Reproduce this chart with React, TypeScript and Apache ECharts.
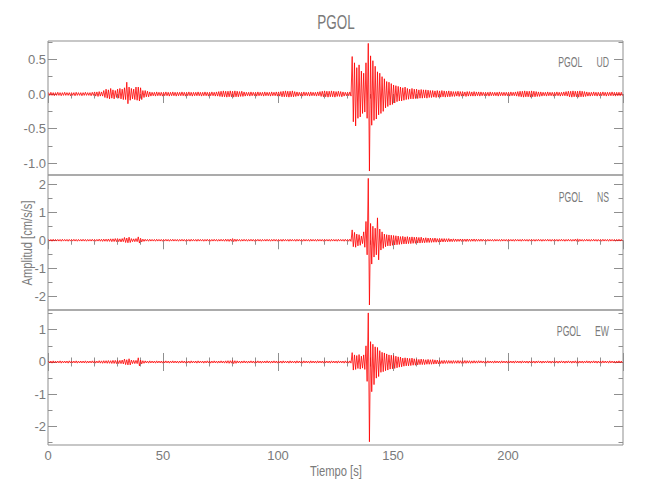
import React, { useEffect, useRef } from "react";
import * as echarts from "echarts";

// Envelope (max / min per 1-second bin), cm/s/s
const udHi = [
  .02,.025,.02,.02,.025,.02,.02,.025,.02,.02,
  .02,.02,.025,.02,.02,.02,.025,.02,.02,.025,
  .03,.03,.035,.03,.05,.07,.06,.08,.06,.05,
  .07,.08,.07,.09,.17,.10,.08,.07,.10,.10,
  .09,.05,.05,.04,.03,.025,.025,.03,.025,.025,
  .025,.03,.025,.025,.03,.025,.025,.025,.03,.025,
  .025,.03,.025,.025,.025,.03,.025,.025,.03,.025,
  .025,.03,.025,.03,.035,.04,.045,.04,.04,.045,
  .04,.045,.04,.035,.04,.03,.025,.025,.03,.025,
  .025,.03,.025,.025,.03,.025,.025,.03,.025,.03,
  .03,.035,.04,.045,.04,.04,.045,.035,.03,.025,
  .025,.03,.025,.025,.03,.025,.025,.03,.035,.04,
  .045,.04,.04,.045,.04,.035,.04,.035,.03,.025,
  .025,.03,.54,.45,.38,.42,.33,.30,.45,.73,
  .55,.48,.40,.32,.30,.25,.22,.18,.17,.15,
  .13,.12,.11,.10,.09,.10,.08,.07,.08,.07,
  .07,.06,.065,.06,.06,.055,.05,.05,.045,.05,
  .045,.05,.045,.04,.045,.04,.035,.035,.04,.035,
  .035,.03,.035,.035,.03,.035,.03,.03,.03,.025,
  .025,.025,.03,.025,.025,.025,.03,.025,.025,.025,
  .025,.03,.025,.03,.035,.04,.04,.045,.04,.04,
  .045,.04,.035,.03,.03,.025,.025,.03,.025,.025,
  .025,.03,.025,.025,.03,.035,.04,.04,.045,.04,
  .04,.045,.04,.035,.03,.025,.025,.03,.025,.025,
  .025,.03,.025,.025,.025,.03,.025,.025,.025,.025,
];
const udLo = [
  -.02,-.02,-.025,-.02,-.02,-.025,-.02,-.02,-.02,-.025,
  -.02,-.025,-.02,-.02,-.025,-.02,-.02,-.02,-.025,-.02,
  -.03,-.035,-.03,-.03,-.05,-.06,-.07,-.06,-.07,-.05,
  -.06,-.07,-.08,-.08,-.14,-.09,-.07,-.08,-.09,-.10,
  -.08,-.05,-.04,-.04,-.03,-.025,-.03,-.025,-.025,-.03,
  -.025,-.025,-.03,-.025,-.025,-.03,-.025,-.025,-.025,-.03,
  -.025,-.025,-.03,-.025,-.025,-.025,-.03,-.025,-.025,-.03,
  -.025,-.025,-.03,-.03,-.035,-.04,-.04,-.045,-.04,-.04,
  -.045,-.04,-.04,-.035,-.035,-.03,-.025,-.03,-.025,-.025,
  -.03,-.025,-.025,-.03,-.025,-.025,-.03,-.025,-.025,-.03,
  -.03,-.04,-.04,-.04,-.045,-.04,-.04,-.035,-.03,-.025,
  -.03,-.025,-.025,-.03,-.025,-.025,-.03,-.025,-.035,-.04,
  -.04,-.045,-.04,-.04,-.045,-.035,-.035,-.04,-.03,-.025,
  -.025,-.03,-.40,-.46,-.35,-.33,-.28,-.26,-.35,-1.11,
  -.45,-.38,-.36,-.30,-.28,-.25,-.20,-.18,-.16,-.15,
  -.13,-.11,-.10,-.10,-.09,-.08,-.075,-.07,-.07,-.065,
  -.065,-.06,-.06,-.055,-.06,-.05,-.05,-.045,-.05,-.045,
  -.045,-.04,-.045,-.04,-.04,-.035,-.035,-.03,-.035,-.03,
  -.03,-.035,-.03,-.03,-.03,-.03,-.025,-.03,-.025,-.025,
  -.025,-.03,-.025,-.025,-.025,-.03,-.025,-.025,-.025,-.025,
  -.03,-.025,-.025,-.03,-.035,-.04,-.045,-.04,-.04,-.045,
  -.04,-.04,-.035,-.035,-.03,-.025,-.03,-.025,-.025,-.03,
  -.025,-.025,-.03,-.025,-.025,-.03,-.04,-.045,-.04,-.04,
  -.045,-.04,-.04,-.035,-.03,-.03,-.025,-.025,-.03,-.025,
  -.025,-.025,-.03,-.025,-.025,-.025,-.03,-.025,-.025,-.025,
];
const nsHi = [
  .03,.03,.035,.03,.03,.03,.035,.03,.03,.03,
  .03,.035,.03,.03,.03,.035,.03,.03,.03,.035,
  .03,.03,.04,.035,.04,.04,.045,.05,.05,.06,
  .06,.05,.06,.10,.08,.11,.06,.05,.06,.12,
  .07,.04,.035,.03,.035,.03,.03,.035,.03,.03,
  .03,.035,.03,.03,.035,.03,.03,.03,.035,.03,
  .03,.03,.035,.03,.03,.035,.03,.03,.03,.035,
  .03,.03,.035,.03,.03,.035,.03,.04,.035,.04,
  .06,.04,.035,.03,.03,.035,.03,.03,.035,.03,
  .03,.035,.03,.03,.03,.035,.03,.03,.035,.03,
  .03,.03,.035,.03,.03,.035,.03,.03,.035,.03,
  .03,.035,.03,.03,.035,.03,.03,.035,.03,.03,
  .035,.03,.03,.035,.03,.03,.035,.03,.03,.035,
  .03,.04,.37,.28,.22,.20,.15,.30,.67,2.21,
  .60,.50,.43,.80,.40,.30,.22,.20,.19,.18,
  .17,.16,.15,.13,.14,.12,.13,.11,.12,.11,
  .11,.10,.11,.08,.09,.08,.08,.07,.08,.06,
  .065,.06,.06,.055,.06,.045,.05,.045,.04,.045,
  .045,.04,.045,.04,.04,.045,.04,.035,.04,.035,
  .03,.035,.03,.03,.035,.03,.03,.035,.03,.03,
  .035,.03,.03,.035,.03,.03,.035,.03,.03,.03,
  .035,.03,.03,.035,.03,.03,.03,.035,.03,.03,
  .035,.03,.03,.035,.03,.03,.035,.03,.03,.04,
  .05,.035,.03,.03,.035,.03,.03,.035,.03,.03,
  .03,.035,.03,.03,.035,.03,.03,.03,.035,.03,
];
const nsLo = [
  -.03,-.035,-.03,-.03,-.03,-.035,-.03,-.03,-.035,-.03,
  -.03,-.03,-.035,-.03,-.03,-.03,-.035,-.03,-.03,-.03,
  -.035,-.03,-.035,-.04,-.035,-.04,-.04,-.05,-.045,-.05,
  -.05,-.06,-.05,-.08,-.09,-.08,-.05,-.05,-.05,-.10,
  -.06,-.04,-.03,-.035,-.03,-.03,-.035,-.03,-.03,-.035,
  -.03,-.03,-.035,-.03,-.03,-.03,-.035,-.03,-.03,-.035,
  -.03,-.035,-.03,-.03,-.035,-.03,-.03,-.035,-.03,-.03,
  -.035,-.03,-.03,-.035,-.03,-.03,-.035,-.035,-.04,-.035,
  -.05,-.04,-.03,-.035,-.03,-.03,-.035,-.03,-.03,-.035,
  -.03,-.03,-.035,-.03,-.03,-.03,-.035,-.03,-.03,-.035,
  -.03,-.035,-.03,-.03,-.035,-.03,-.03,-.035,-.03,-.03,
  -.035,-.03,-.03,-.035,-.03,-.03,-.035,-.03,-.03,-.035,
  -.03,-.03,-.035,-.03,-.03,-.035,-.03,-.03,-.035,-.03,
  -.035,-.04,-.23,-.25,-.20,-.18,-.12,-.25,-.52,-2.31,
  -.85,-.60,-.52,-.70,-.35,-.29,-.23,-.20,-.20,-.18,
  -.17,-.16,-.15,-.14,-.13,-.13,-.12,-.12,-.11,-.11,
  -.10,-.10,-.09,-.09,-.08,-.08,-.075,-.07,-.07,-.065,
  -.06,-.06,-.055,-.055,-.05,-.05,-.045,-.045,-.04,-.04,
  -.04,-.045,-.04,-.04,-.035,-.04,-.035,-.035,-.035,-.03,
  -.035,-.03,-.03,-.035,-.03,-.03,-.035,-.03,-.03,-.035,
  -.03,-.03,-.035,-.03,-.03,-.035,-.03,-.03,-.035,-.03,
  -.03,-.035,-.03,-.03,-.035,-.03,-.03,-.03,-.035,-.03,
  -.03,-.035,-.03,-.03,-.035,-.03,-.03,-.035,-.03,-.035,
  -.045,-.03,-.035,-.03,-.03,-.035,-.03,-.03,-.035,-.03,
  -.035,-.03,-.03,-.035,-.03,-.03,-.035,-.03,-.03,-.03,
];
const ewHi = [
  .03,.03,.035,.03,.03,.035,.03,.03,.03,.035,
  .03,.03,.035,.03,.03,.03,.035,.03,.03,.035,
  .035,.03,.04,.035,.04,.04,.045,.04,.05,.05,
  .05,.05,.06,.09,.07,.10,.06,.05,.05,.13,
  .06,.04,.035,.03,.035,.03,.03,.035,.03,.03,
  .03,.035,.03,.03,.035,.03,.03,.03,.035,.03,
  .03,.03,.035,.03,.03,.035,.03,.03,.03,.035,
  .03,.03,.035,.03,.03,.035,.03,.035,.04,.04,
  .05,.04,.035,.03,.03,.035,.03,.03,.035,.03,
  .03,.035,.03,.03,.03,.035,.03,.03,.035,.03,
  .03,.03,.035,.03,.03,.035,.03,.03,.035,.03,
  .03,.035,.03,.03,.035,.03,.03,.035,.03,.03,
  .035,.03,.03,.035,.03,.03,.035,.03,.03,.035,
  .03,.035,.29,.22,.20,.23,.18,.22,.50,1.52,
  .63,.55,.47,.45,.35,.30,.28,.25,.22,.21,
  .20,.18,.16,.15,.12,.13,.12,.11,.12,.10,
  .09,.08,.09,.08,.07,.08,.07,.075,.065,.06,
  .05,.045,.05,.045,.045,.04,.045,.04,.045,.04,
  .04,.045,.04,.04,.035,.04,.035,.04,.035,.03,
  .03,.035,.03,.03,.035,.03,.03,.035,.03,.03,
  .035,.03,.03,.035,.03,.03,.035,.03,.03,.03,
  .035,.03,.03,.035,.03,.03,.03,.035,.03,.03,
  .035,.03,.03,.035,.03,.03,.035,.03,.03,.035,
  .035,.03,.03,.03,.035,.03,.03,.035,.03,.03,
  .03,.035,.03,.03,.035,.03,.03,.03,.035,.03,
];
const ewLo = [
  -.03,-.035,-.03,-.03,-.03,-.035,-.03,-.03,-.035,-.03,
  -.03,-.03,-.035,-.03,-.03,-.03,-.035,-.03,-.03,-.03,
  -.035,-.03,-.035,-.04,-.035,-.04,-.04,-.045,-.045,-.05,
  -.05,-.05,-.06,-.08,-.09,-.09,-.05,-.05,-.05,-.12,
  -.06,-.04,-.03,-.035,-.03,-.03,-.035,-.03,-.03,-.035,
  -.03,-.03,-.035,-.03,-.03,-.03,-.035,-.03,-.03,-.035,
  -.03,-.035,-.03,-.03,-.035,-.03,-.03,-.035,-.03,-.03,
  -.035,-.03,-.03,-.035,-.03,-.03,-.035,-.035,-.04,-.035,
  -.05,-.04,-.03,-.035,-.03,-.03,-.035,-.03,-.03,-.035,
  -.03,-.03,-.035,-.03,-.03,-.03,-.035,-.03,-.03,-.035,
  -.03,-.035,-.03,-.03,-.035,-.03,-.03,-.035,-.03,-.03,
  -.035,-.03,-.03,-.035,-.03,-.03,-.035,-.03,-.03,-.035,
  -.03,-.03,-.035,-.03,-.03,-.035,-.03,-.03,-.035,-.03,
  -.035,-.035,-.25,-.23,-.20,-.22,-.19,-.23,-.60,-2.47,
  -.92,-.70,-.50,-.45,-.32,-.30,-.27,-.25,-.22,-.21,
  -.20,-.18,-.16,-.15,-.13,-.12,-.12,-.11,-.10,-.10,
  -.09,-.08,-.08,-.08,-.07,-.07,-.07,-.065,-.06,-.06,
  -.05,-.05,-.045,-.045,-.04,-.045,-.04,-.04,-.04,-.04,
  -.04,-.04,-.035,-.04,-.035,-.035,-.035,-.03,-.03,-.035,
  -.035,-.03,-.03,-.035,-.03,-.03,-.035,-.03,-.03,-.035,
  -.03,-.03,-.035,-.03,-.03,-.035,-.03,-.03,-.035,-.03,
  -.03,-.035,-.03,-.03,-.035,-.03,-.03,-.03,-.035,-.03,
  -.03,-.035,-.03,-.03,-.035,-.03,-.03,-.035,-.03,-.035,
  -.035,-.03,-.035,-.03,-.03,-.035,-.03,-.03,-.035,-.03,
  -.035,-.03,-.03,-.035,-.03,-.03,-.035,-.03,-.03,-.03,
];

const components = ["UD", "NS", "EW"];
const station = "PGOL";
const yRanges = [
  [-1.167, 0.764],
  [-2.49, 2.33],
  [-2.57, 1.61],
];
const yMajor = [
  [-1.0, -0.5, 0.0, 0.5],
  [-2, -1, 0, 1, 2],
  [-2, -1, 0, 1],
];
const yMinor = [
  [-0.75, -0.25, 0.25, 0.75],
  [-2.0, -1.5, -0.5, 0.5, 1.5],
  [-2.5, -1.5, -0.5, 0.5, 1.5],
];
const yDecimals = [1, 0, 0];

const FONT = "'Liberation Sans', Arial, sans-serif";
const GRAY = "#7a7a7a";
const AXIS = "#8f8f8f";

function toPoints(hi: number[], lo: number[]) {
  const pts: number[][] = [];
  for (let i = 0; i < hi.length; i++) {
    pts.push([i + 0.25, hi[i]]);
    pts.push([i + 0.75, lo[i]]);
  }
  return pts;
}

export default function App() {
  const ref = useRef<HTMLDivElement>(null);
  useEffect(() => {
    if (!ref.current) return;
    const chart = echarts.init(ref.current, undefined, { renderer: "svg" });
    const tops = [41, 175, 310];
    const heights = [134, 135, 135];
    const grids = tops.map((t, i) => ({
      left: 48, right: 27, top: t, height: heights[i],
      show: true, borderColor: AXIS, borderWidth: 1, backgroundColor: "transparent",
    }));
    const xAxis: any[] = [];
    const yAxis: any[] = [];
    for (let g = 0; g < 3; g++) {
      const base = {
        type: "value", gridIndex: g, min: 0, max: 250, interval: 50,
        axisLine: { show: false }, splitLine: { show: false },
        axisTick: { show: true, inside: true, length: 9, lineStyle: { color: AXIS } },
        minorTick: { show: true, splitNumber: 5, length: 4.5, lineStyle: { color: AXIS } },
      };
      xAxis.push({
        ...base, position: "bottom",
        axisTick: g === 2 ? base.axisTick : { show: false },
        minorTick: g === 2 ? base.minorTick : { show: false },
        axisLabel: g === 2
          ? { show: true, color: GRAY, fontFamily: FONT, fontSize: 13, margin: 4, showMaxLabel: false }
          : { show: false },
      });
      xAxis.push({ ...base, position: "top", axisLabel: { show: false } });
      const [mn, mx] = yRanges[g];
      const dec = yDecimals[g];
      const ybase = {
        type: "value", gridIndex: g, min: mn, max: mx,
        axisLine: { show: false }, splitLine: { show: false },
      };
      yAxis.push({
        ...ybase, position: "left",
        axisTick: { show: true, inside: true, length: 9, customValues: yMajor[g], lineStyle: { color: AXIS } },
        axisLabel: {
          show: true, customValues: yMajor[g], color: GRAY, fontFamily: FONT, fontSize: 13, margin: 2,
          formatter: (v: number) => v.toFixed(dec),
        },
      });
      yAxis.push({
        ...ybase, position: "left",
        axisTick: { show: true, inside: true, length: 4.5, customValues: yMinor[g], lineStyle: { color: AXIS } },
        axisLabel: { show: false },
      });
      yAxis.push({
        ...ybase, position: "right",
        axisTick: { show: true, inside: true, length: 9, customValues: yMajor[g], lineStyle: { color: AXIS } },
        axisLabel: { show: false },
      });
      yAxis.push({
        ...ybase, position: "right",
        axisTick: { show: true, inside: true, length: 4.5, customValues: yMinor[g], lineStyle: { color: AXIS } },
        axisLabel: { show: false },
      });
    }
    const datasets = [toPoints(udHi, udLo), toPoints(nsHi, nsLo), toPoints(ewHi, ewLo)];
    const series = datasets.map((d, g) => ({
      type: "line", name: components[g], xAxisIndex: 2 * g, yAxisIndex: 4 * g,
      data: d, symbol: "none", showSymbol: false,
      lineStyle: { color: "#ff0000", width: 0.9, opacity: 0.9 }, clip: true, silent: true,
    }));
    const labelYs = [62, 197, 331];
    const graphic: any[] = [
      { type: "text", x: 336, y: 22, scaleX: 0.64, style: { text: station, fill: GRAY, font: `21px ${FONT}`, align: "center", verticalAlign: "middle" } },
      { type: "text", x: 336, y: 472, scaleX: 0.8, style: { text: "Tiempo [s]", fill: GRAY, font: `14px ${FONT}`, align: "center", verticalAlign: "middle" } },
      { type: "text", x: 28, y: 243, rotation: Math.PI / 2, scaleX: 0.8, style: { text: "Amplitud [cm/s/s]", fill: GRAY, font: `14px ${FONT}`, align: "center", verticalAlign: "middle" } },
    ];
    components.forEach((c, g) => {
      graphic.push({ type: "text", x: 609, y: labelYs[g], scaleX: 0.62, style: { text: `${station}      ${c}`, fill: GRAY, font: `14px ${FONT}`, align: "right", verticalAlign: "middle" } });
    });
    chart.setOption({
      animation: false,
      backgroundColor: "#ffffff",
      grid: grids,
      xAxis, yAxis, series, graphic,
    });
    return () => chart.dispose();
  }, []);
  return <div ref={ref} style={{ position: "fixed", left: 0, top: 0, width: 650, height: 500 }} />;
}
